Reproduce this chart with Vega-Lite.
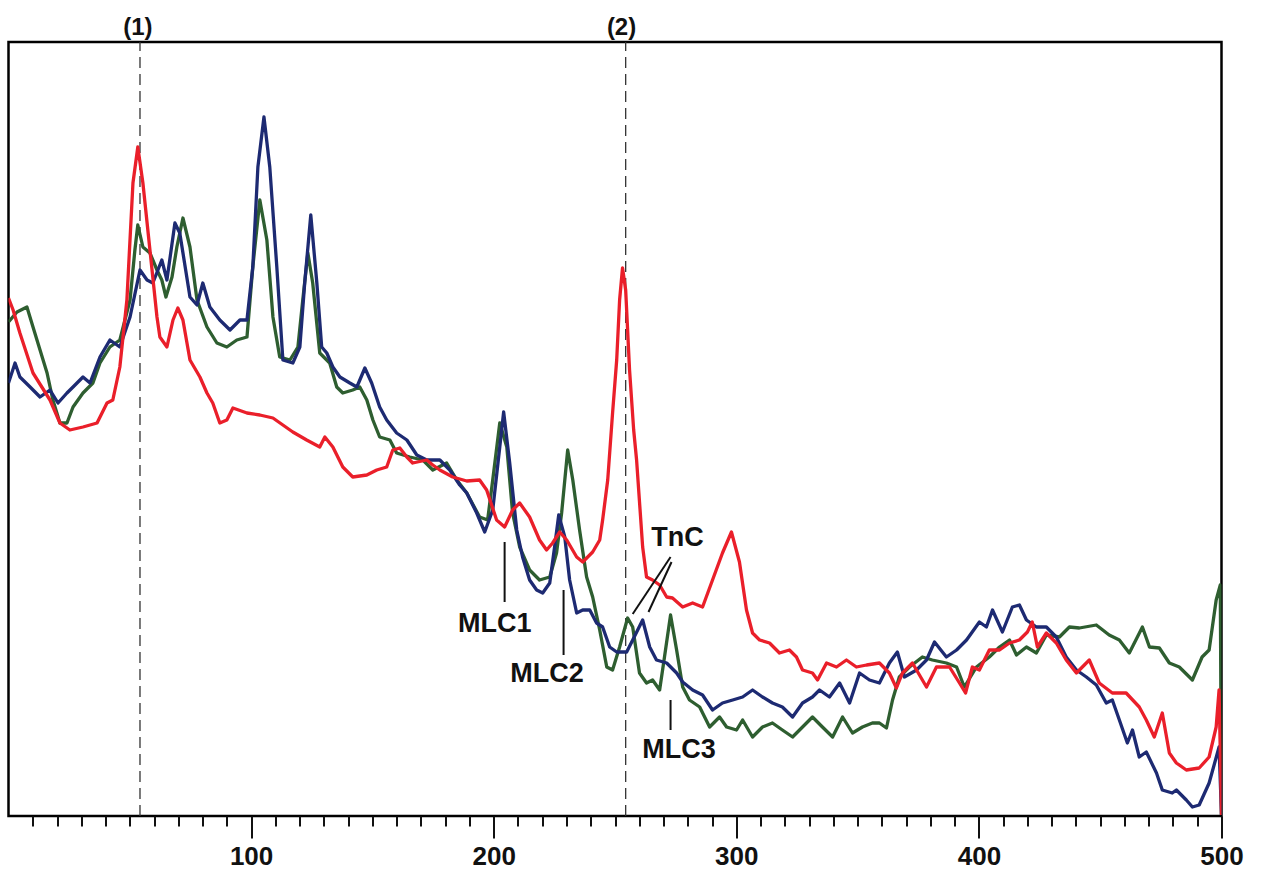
{
  "$schema": "https://vega.github.io/schema/vega-lite/v6.json",
  "width": 1213,
  "height": 774,
  "autosize": {"type": "none"},
  "padding": {"left": 8.5, "top": 42, "right": 41.5, "bottom": 55},
  "background": "white",
  "config": {
    "view": {"stroke": "#000", "strokeWidth": 2.5},
    "font": "Liberation Sans"
  },
  "datasets": {
    "red": [
      [0,518],[1.9,506],[4.7,483],[10.1,443],[17.1,416],[21.2,393],[25.3,386],[30.7,389],[36.5,393],[40.6,413],[43.0,416],[45.9,449],[48.8,516],[51.3,633],[53.3,669],[55.4,633],[58.3,566],[61.2,499],[62.4,479],[65.3,469],[67.8,496],[69.8,508],[71.9,496],[74.8,456],[78.9,439],[81.8,423],[84.2,413],[87.1,393],[90.0,396],[92.5,408],[98.3,403],[103.6,401],[109.0,398],[113.1,391],[117.2,384],[122.9,376],[128.3,369],[130.4,379],[133.7,369],[137.8,349],[141.9,339],[147.7,341],[151.8,346],[155.9,349],[158.4,366],[161.3,368],[164.2,359],[166.6,353],[172.4,356],[174.9,351],[177.8,346],[183.1,339],[188.9,335],[194.2,336],[197.1,326],[201.2,296],[204.5,289],[207.8,306],[210.7,313],[214.8,299],[218.9,276],[221.8,266],[224.3,273],[227.2,284],[230.1,276],[234.2,259],[236.7,254],[240.8,264],[243.7,276],[244.9,296],[247.0,336],[249.0,403],[250.7,456],[251.9,516],[253.1,548],[254.4,526],[256.0,446],[257.7,386],[258.9,356],[261.4,269],[263.0,239],[265.5,236],[268.4,231],[271.3,219],[273.7,218],[277.9,209],[282.0,213],[286.1,209],[290.2,236],[294.3,263],[298.0,284],[301.3,254],[304.2,206],[306.7,183],[309.6,176],[313.7,173],[317.8,163],[321.9,166],[324.8,159],[327.3,146],[331.4,143],[333.5,136],[337.2,153],[341.3,149],[345.4,156],[349.5,149],[353.7,151],[359.0,153],[363.1,143],[366.0,128],[368.5,143],[372.6,153],[378.4,129],[382.5,149],[387.9,149],[392.0,133],[394.5,123],[397.3,149],[400.2,146],[404.3,166],[408.5,166],[412.6,173],[416.7,176],[420.0,184],[422.0,194],[424.1,169],[427.8,183],[431.9,173],[436.0,156],[440.2,143],[445.5,156],[449.6,133],[455.0,123],[460.7,123],[466.1,109],[469.0,96],[472.3,79],[475.6,103],[478.5,63],[481.4,53],[485.5,46],[490.8,48],[494.9,59],[497.8,89],[499.0,126],[500,1]
    ],
    "green": [
      [0,494],[3.5,504],[7.6,509],[10.1,489],[13.0,466],[15.9,443],[18.3,416],[21.2,393],[24.1,393],[26.6,409],[30.7,423],[34.8,433],[37.7,453],[41.8,469],[45.9,476],[50.1,516],[52.1,566],[53.3,591],[55.4,569],[58.3,563],[61.2,546],[63.2,536],[64.9,519],[67.4,539],[69.4,569],[71.9,598],[74.8,569],[77.7,516],[81.8,489],[85.9,473],[90.0,469],[94.1,476],[98.3,479],[100.7,549],[103.6,616],[106.5,576],[109.0,499],[111.8,459],[116.0,456],[119.3,469],[121.3,516],[123.4,563],[125.4,533],[128.3,463],[132.4,453],[135.3,429],[137.8,423],[141.9,426],[144.8,429],[147.7,416],[150.2,396],[153.0,379],[157.2,376],[160.0,363],[165.4,359],[170.8,356],[174.9,346],[180.6,353],[184.8,336],[188.9,323],[194.2,299],[197.5,296],[199.6,336],[202.5,393],[205.4,369],[207.8,303],[210.7,269],[214.8,246],[218.9,236],[223.1,239],[225.9,263],[228.0,303],[230.5,366],[232.6,336],[235.4,286],[238.3,239],[240.8,219],[243.7,186],[246.6,149],[249.0,146],[251.9,169],[255.2,198],[257.3,189],[260.1,143],[263.0,133],[265.5,136],[268.4,126],[270.4,159],[272.9,201],[275.4,166],[277.9,129],[280.7,116],[284.9,109],[289.0,89],[293.1,99],[296.0,89],[300.1,86],[302.6,96],[306.7,79],[310.8,89],[314.9,93],[319.0,86],[323.2,79],[327.3,89],[331.4,99],[335.5,89],[339.7,79],[343.8,99],[347.9,83],[352.0,89],[356.1,93],[359.0,93],[361.9,88],[364.4,116],[367.2,139],[371.4,149],[376.7,159],[380.8,156],[386.6,153],[390.8,149],[394.0,129],[399.0,149],[404.3,159],[408.5,169],[412.6,176],[415.5,161],[419.6,169],[423.7,163],[427.8,181],[433.2,179],[437.3,189],[441.4,188],[448.4,191],[453.7,181],[457.9,176],[462.0,163],[467.4,189],[470.3,169],[474.4,168],[478.5,153],[482.6,149],[488.0,136],[492.0,159],[494.9,166],[497.8,216],[499.5,231],[500,1]
    ],
    "blue": [
      [0,433],[2.7,453],[4.7,439],[8.9,429],[13.0,419],[17.1,426],[20.4,413],[24.1,423],[26.6,429],[30.7,439],[33.6,433],[37.7,459],[41.8,476],[45.9,469],[50.1,499],[54.2,546],[57.1,536],[59.5,533],[63.2,556],[65.3,536],[68.6,593],[70.6,583],[74.8,519],[77.7,511],[80.1,533],[83.0,509],[87.1,496],[91.3,486],[95.4,496],[98.3,496],[100.7,549],[102.8,649],[105.3,699],[107.7,649],[110.6,549],[113.1,456],[117.2,453],[120.1,469],[122.1,533],[124.6,601],[127.1,533],[129.1,469],[131.2,463],[133.7,449],[136.6,439],[140.7,433],[143.6,429],[146.9,448],[149.7,433],[153.0,409],[155.9,396],[160.0,383],[164.2,376],[168.3,361],[172.4,356],[177.8,356],[181.9,346],[186.0,331],[188.9,323],[193.0,303],[196.3,284],[199.6,306],[202.5,369],[204.1,404],[206.6,353],[209.5,286],[211.9,259],[214.8,236],[217.7,226],[220.2,223],[223.1,233],[225.1,269],[226.8,301],[229.3,279],[231.3,236],[234.2,203],[236.7,206],[239.6,206],[242.4,193],[244.9,189],[247.8,169],[250.7,164],[254.8,164],[257.3,176],[261.4,196],[264.3,169],[267.1,156],[271.3,153],[275.4,143],[277.9,134],[282.0,126],[286.1,121],[290.2,106],[294.3,113],[298.5,116],[302.6,119],[306.7,126],[310.8,119],[314.9,113],[319.0,109],[323.2,99],[327.3,113],[331.4,119],[334.3,126],[338.4,119],[342.6,133],[346.7,113],[350.8,143],[354.9,136],[359.0,133],[363.1,153],[366.4,164],[369.3,139],[374.3,146],[378.4,156],[381.7,174],[386.6,159],[390.8,166],[394.9,176],[400.2,194],[403.1,189],[405.6,206],[409.7,184],[413.8,209],[416.7,211],[419.6,196],[423.7,189],[427.8,189],[431.9,179],[436.0,159],[440.2,146],[444.3,139],[448.4,131],[452.5,113],[455.0,116],[457.9,96],[461.2,73],[463.3,86],[466.1,59],[469.0,64],[473.2,43],[475.6,26],[479.7,23],[481.4,26],[485.5,16],[488.0,9],[490.8,11],[494.9,33],[499.0,69],[500,1]
    ],
    "marks": [
      {"label": "(1)", "x": 53.3, "y": 788},
      {"label": "(2)", "x": 252.7, "y": 788}
    ],
    "dashes": [
      {"x": 54.2},
      {"x": 254.4}
    ],
    "notes": [
      {"label": "MLC1", "x": 200.4, "y": 192},
      {"label": "MLC2", "x": 222.0, "y": 142},
      {"label": "TnC", "x": 275.8, "y": 278},
      {"label": "MLC3", "x": 276.4, "y": 66}
    ],
    "pointers": [
      {"x": 204.5, "y": 274, "x2": 204.5, "y2": 214},
      {"x": 228.8, "y": 226, "x2": 228.8, "y2": 161},
      {"x": 272.9, "y": 259, "x2": 257.3, "y2": 202},
      {"x": 273.3, "y": 254, "x2": 263.8, "y2": 204},
      {"x": 272.9, "y": 116, "x2": 272.9, "y2": 86}
    ]
  },
  "resolve": {"axis": {"x": "independent"}},
  "layer": [
    {
      "data": {"name": "dashes"},
      "mark": {"type": "rule", "stroke": "#333", "strokeWidth": 1.3, "strokeDash": [11, 6]},
      "encoding": {
        "x": {
          "field": "x", "type": "quantitative",
          "scale": {"domain": [0, 500], "nice": false},
          "axis": {
            "orient": "bottom", "title": null, "domain": false, "grid": false, "labels": false,
            "values": [10,20,30,40,50,60,70,80,90,110,120,130,140,150,160,170,180,190,210,220,230,240,250,260,270,280,290,310,320,330,340,350,360,370,380,390,410,420,430,440,450,460,470,480,490],
            "tickColor": "#111", "tickWidth": 2, "tickSize": 10
          }
        },
        "y": {"datum": 0, "type": "quantitative", "scale": {"domain": [0, 774], "nice": false, "zero": false}, "axis": null},
        "y2": {"datum": 774}
      }
    },
    {
      "data": {"name": "green"},
      "transform": [{"calculate": "datum[0]", "as": "pos"}, {"calculate": "datum[1]", "as": "od"}],
      "mark": {"type": "line", "stroke": "#2e5e30", "strokeWidth": 3.3, "strokeJoin": "round", "clip": true},
      "encoding": {
        "x": {
          "field": "pos", "type": "quantitative",
          "axis": {
            "orient": "bottom", "title": null, "domain": false, "grid": false,
            "values": [100, 200, 300, 400, 500],
            "tickColor": "#111", "tickWidth": 2, "tickSize": 22,
            "labelFont": "Liberation Sans", "labelFontWeight": "bold", "labelFontSize": 26,
            "labelColor": "#111", "labelPadding": 5, "labelFlush": false, "labelOverlap": false
          }
        },
        "y": {"field": "od", "type": "quantitative", "axis": null}
      }
    },
    {
      "data": {"name": "blue"},
      "transform": [{"calculate": "datum[0]", "as": "pos"}, {"calculate": "datum[1]", "as": "od"}],
      "mark": {"type": "line", "stroke": "#1d2a72", "strokeWidth": 3.3, "strokeJoin": "round", "clip": true},
      "encoding": {
        "x": {"field": "pos", "type": "quantitative", "axis": null},
        "y": {"field": "od", "type": "quantitative", "axis": null}
      }
    },
    {
      "data": {"name": "red"},
      "transform": [{"calculate": "datum[0]", "as": "pos"}, {"calculate": "datum[1]", "as": "od"}],
      "mark": {"type": "line", "stroke": "#ea1f2a", "strokeWidth": 3.3, "strokeJoin": "round", "clip": true},
      "encoding": {
        "x": {"field": "pos", "type": "quantitative", "axis": null},
        "y": {"field": "od", "type": "quantitative", "axis": null}
      }
    },
    {
      "data": {"name": "pointers"},
      "mark": {"type": "rule", "stroke": "#111", "strokeWidth": 2},
      "encoding": {
        "x": {"field": "x", "type": "quantitative", "axis": null},
        "y": {"field": "y", "type": "quantitative", "axis": null},
        "x2": {"field": "x2"},
        "y2": {"field": "y2"}
      }
    },
    {
      "data": {"name": "notes"},
      "mark": {"type": "text", "font": "Liberation Sans", "fontWeight": "bold", "fontSize": 27, "color": "#111", "align": "center", "baseline": "middle"},
      "encoding": {
        "x": {"field": "x", "type": "quantitative", "axis": null},
        "y": {"field": "y", "type": "quantitative", "axis": null},
        "text": {"field": "label"}
      }
    },
    {
      "data": {"name": "marks"},
      "mark": {"type": "text", "font": "Liberation Sans", "fontWeight": "bold", "fontSize": 24, "color": "#111", "align": "center", "baseline": "middle", "clip": false},
      "encoding": {
        "x": {"field": "x", "type": "quantitative", "axis": null},
        "y": {"field": "y", "type": "quantitative", "axis": null},
        "text": {"field": "label"}
      }
    }
  ]
}
